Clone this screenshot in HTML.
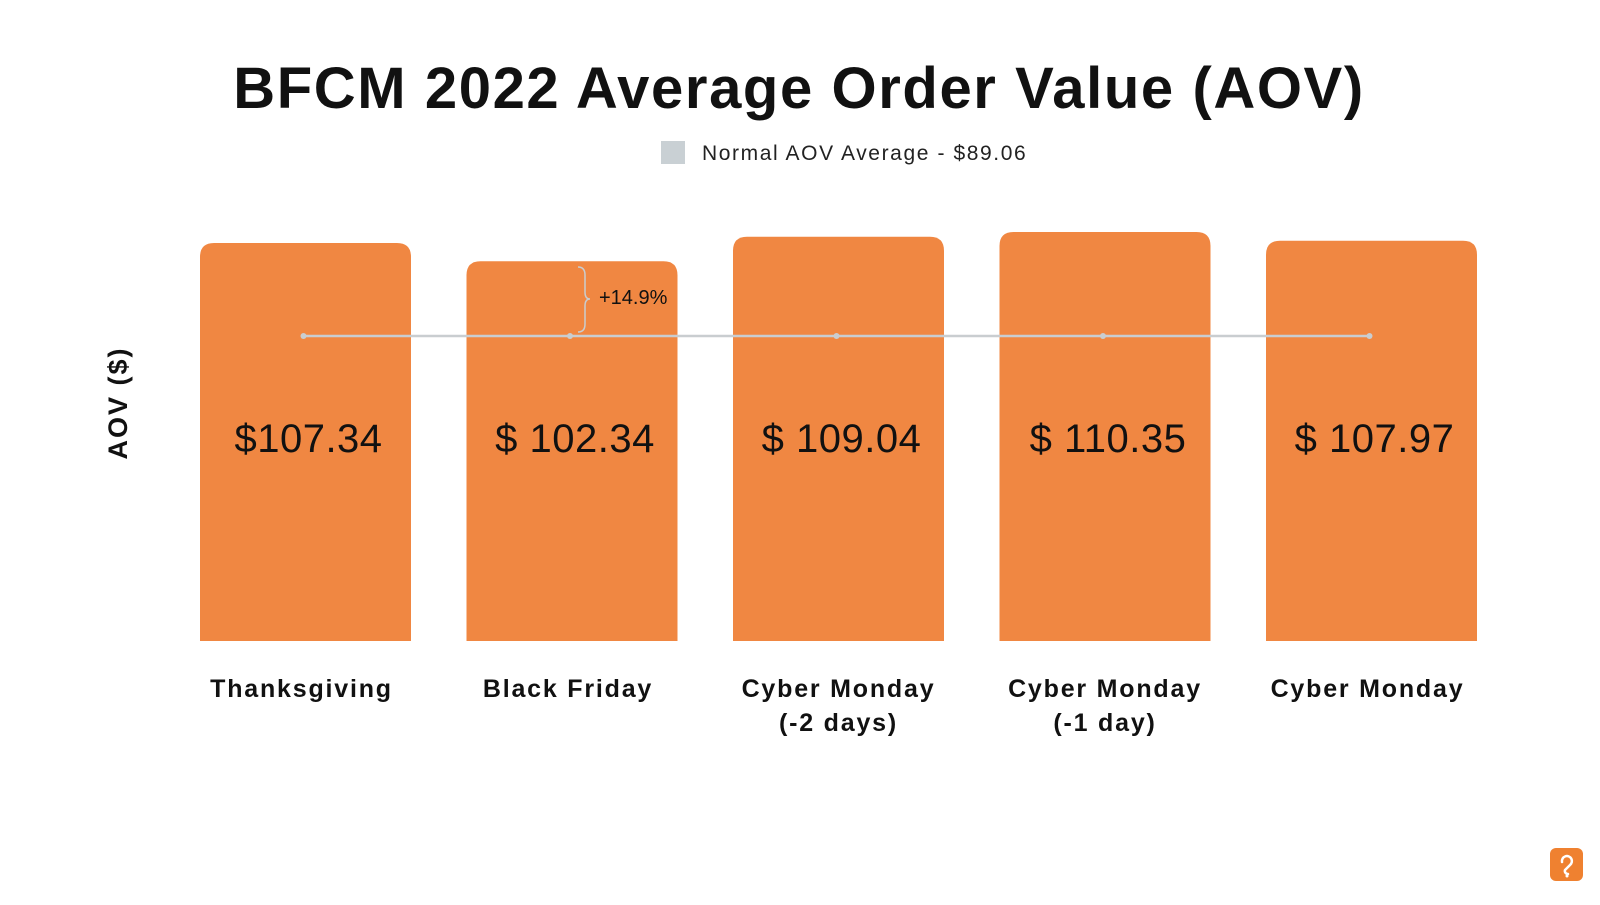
<!DOCTYPE html>
<html><head><meta charset="utf-8"><style>
html,body{margin:0;padding:0;background:#fff;}
body{width:1600px;height:900px;overflow:hidden;font-family:"Liberation Sans",sans-serif;}
</style></head><body>
<svg id="chart" width="1600" height="900" viewBox="0 0 1600 900" xmlns="http://www.w3.org/2000/svg">
<text x="799" y="108" text-anchor="middle" font-family="Liberation Sans, sans-serif" font-weight="bold" font-size="58" letter-spacing="1.6" fill="#111">BFCM 2022 Average Order Value (AOV)</text>
<rect x="661" y="141" width="24" height="23" fill="#c9d0d4"/>
<text x="702" y="160" font-family="Liberation Sans, sans-serif" font-size="21" letter-spacing="1.6" fill="#222">Normal AOV Average - $89.06</text>
<text transform="translate(127,403) rotate(-90)" text-anchor="middle" font-family="Liberation Sans, sans-serif" font-weight="bold" font-size="27" letter-spacing="2" fill="#111">AOV ($)</text>
<g id="bars"></g>
<g id="line"></g>
<g id="labels"></g>
<path d="M578,267 Q585,267 585,275 L585,292 Q585,299 590,299 Q585,299 585,306 L585,324 Q585,332 578,332" fill="none" stroke="#c9cdd0" stroke-width="1.5"/>
<text x="599" y="304" font-family="Liberation Sans, sans-serif" font-size="20" fill="#111">+14.9%</text>
<g>
<rect x="1550" y="848" width="33" height="33" rx="6" fill="#ef8130"/>
<path d="M1562,862 a5,5 0 1 1 8,3 l-5,5 a3,3 0 0 0 3,4" fill="none" stroke="#fff" stroke-width="2.5" stroke-linecap="round"/>
<circle cx="1567" cy="876" r="1.5" fill="#fff"/>
</g>
</svg>
<script>
const categories = [["Thanksgiving"],["Black Friday"],["Cyber Monday","(-2 days)"],["Cyber Monday","(-1 day)"],["Cyber Monday"]];
const values = [107.34, 102.34, 109.04, 110.35, 107.97];
const valueLabels = ["$107.34","$ 102.34","$ 109.04","$ 110.35","$ 107.97"];
const averageValue = 89.06;

const NS="http://www.w3.org/2000/svg";
const baseY=641, barW=211, step=266.5, x0=200;
function xScale(i){return x0+i*step;}
function yScale(v){return 243-(v-107.34)*3.65;}
function avgY(v){return 336+(89.06-v)*3.65;}
function mk(tag,attrs,parent){const e=document.createElementNS(NS,tag);for(const k in attrs)e.setAttribute(k,attrs[k]);parent.appendChild(e);return e;}
const gb=document.getElementById('bars'),gl=document.getElementById('line'),gt=document.getElementById('labels');
values.forEach((v,i)=>{
  const x=xScale(i),y=yScale(v),r=14;
  const p=mk('path',{d:`M${x},${baseY} L${x},${y+r} Q${x},${y} ${x+r},${y} L${x+barW-r},${y} Q${x+barW},${y} ${x+barW},${y+r} L${x+barW},${baseY} Z`,fill:'#f08742'},gb);
  
  
  const t=mk('text',{x:x+barW/2+3,y:452,'text-anchor':'middle','font-family':'Liberation Sans, sans-serif','font-size':'40','letter-spacing':'0.5',fill:'#111'},gt);
  t.textContent=valueLabels[i];
  
  
  categories[i].forEach((line,j)=>{
    const c=mk('text',{x:x+barW/2-4+(categories[i].length>1?4:0),y:697+j*34,'text-anchor':'middle','font-family':'Liberation Sans, sans-serif','font-weight':'bold','font-size':'25','letter-spacing':'1.8',fill:'#111'},gt);
    c.textContent=line;
    
    
  });
});
const ly=avgY(averageValue);
const ln=mk('line',{x1:xScale(0)+barW/2-2,x2:xScale(values.length-1)+barW/2-2,y1:ly,y2:ly,stroke:'#c9cdd0','stroke-width':'2.5'},gl);


values.forEach((v,i)=>{
  const d=mk('circle',{cx:xScale(i)+barW/2-2,cy:ly,r:3,fill:'#c9cdd0'},gl);
  
  
});
</script>
</body></html>
